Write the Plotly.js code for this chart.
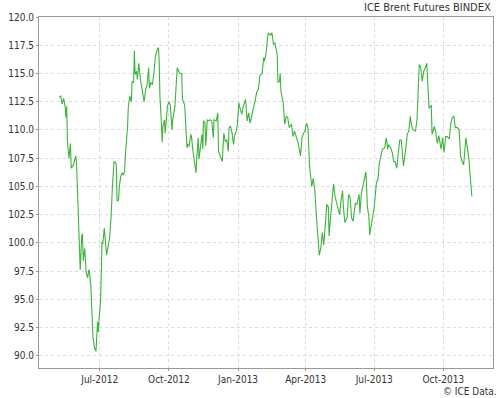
<!DOCTYPE html>
<html>
<head>
<meta charset="utf-8">
<script src="https://cdn.plot.ly/plotly-3.0.1.min.js"></script>
<style>html,body{margin:0;padding:0;background:#fff;}#chart{width:500px;height:398px;}</style>
</head>
<body>
<div id="chart"></div>
<script>
var dates = [
"2012-05-08","2012-05-10","2012-05-12","2012-05-14","2012-05-16","2012-05-17","2012-05-18","2012-05-19","2012-05-21","2012-05-23",
"2012-05-24","2012-05-27","2012-05-30","2012-05-31","2012-06-02","2012-06-04","2012-06-05","2012-06-07","2012-06-08","2012-06-09",
"2012-06-11","2012-06-13","2012-06-15","2012-06-16","2012-06-17","2012-06-19","2012-06-21","2012-06-22","2012-06-24","2012-06-26",
"2012-06-28","2012-06-29","2012-06-30","2012-07-02","2012-07-03","2012-07-04","2012-07-05","2012-07-07","2012-07-10","2012-07-12",
"2012-07-14","2012-07-16","2012-07-17","2012-07-18","2012-07-20","2012-07-22","2012-07-23","2012-07-24","2012-07-26","2012-07-27",
"2012-07-29","2012-07-31","2012-08-01","2012-08-03","2012-08-04","2012-08-07","2012-08-08","2012-08-10","2012-08-11","2012-08-12",
"2012-08-13","2012-08-15","2012-08-16","2012-08-17","2012-08-19","2012-08-20","2012-08-22","2012-08-24","2012-08-27","2012-08-29",
"2012-08-31","2012-09-02","2012-09-04","2012-09-05","2012-09-07","2012-09-09","2012-09-11","2012-09-13","2012-09-15","2012-09-17",
"2012-09-18","2012-09-19","2012-09-21","2012-09-22","2012-09-23","2012-09-25","2012-09-26","2012-09-27","2012-09-29","2012-10-01",
"2012-10-03","2012-10-05","2012-10-06","2012-10-09","2012-10-12","2012-10-14","2012-10-16","2012-10-18","2012-10-19","2012-10-22",
"2012-10-23","2012-10-25","2012-10-26","2012-10-28","2012-10-30","2012-10-31","2012-11-02","2012-11-04","2012-11-06","2012-11-07",
"2012-11-09","2012-11-10","2012-11-12","2012-11-14","2012-11-15","2012-11-16","2012-11-18","2012-11-19","2012-11-21","2012-11-23",
"2012-11-25","2012-11-27","2012-11-29","2012-11-30","2012-12-03","2012-12-05","2012-12-06","2012-12-08","2012-12-11","2012-12-13",
"2012-12-15","2012-12-17","2012-12-19","2012-12-20","2012-12-22","2012-12-24","2012-12-26","2012-12-27","2012-12-30","2012-12-31",
"2013-01-02","2013-01-04","2013-01-06","2013-01-08","2013-01-11","2013-01-13","2013-01-15","2013-01-17","2013-01-19","2013-01-22",
"2013-01-24","2013-01-26","2013-01-28","2013-01-30","2013-02-02","2013-02-04","2013-02-05","2013-02-07","2013-02-08","2013-02-10",
"2013-02-13","2013-02-15","2013-02-17","2013-02-19","2013-02-22","2013-02-23","2013-02-25","2013-02-26","2013-02-27","2013-03-02",
"2013-03-04","2013-03-06","2013-03-08","2013-03-10","2013-03-13","2013-03-15","2013-03-17","2013-03-19","2013-03-22","2013-03-25",
"2013-03-27","2013-03-29","2013-03-31","2013-04-02","2013-04-04","2013-04-06","2013-04-08","2013-04-09","2013-04-11","2013-04-13",
"2013-04-15","2013-04-17","2013-04-19","2013-04-21","2013-04-23","2013-04-25","2013-04-27","2013-04-29","2013-05-01","2013-05-02",
"2013-05-04","2013-05-06","2013-05-08","2013-05-10","2013-05-12","2013-05-14","2013-05-16","2013-05-18","2013-05-20","2013-05-21",
"2013-05-23","2013-05-26","2013-05-28","2013-05-30","2013-06-01","2013-06-03","2013-06-06","2013-06-08","2013-06-11","2013-06-12",
"2013-06-14","2013-06-16","2013-06-19","2013-06-20","2013-06-22","2013-06-24","2013-06-25","2013-06-27","2013-06-29","2013-07-01",
"2013-07-04","2013-07-06","2013-07-08","2013-07-10","2013-07-12","2013-07-15","2013-07-17","2013-07-19","2013-07-20","2013-07-23",
"2013-07-25","2013-07-27","2013-07-29","2013-07-31","2013-08-02","2013-08-04","2013-08-06","2013-08-07","2013-08-09","2013-08-12",
"2013-08-14","2013-08-16","2013-08-18","2013-08-20","2013-08-22","2013-08-25","2013-08-27","2013-08-30","2013-09-01","2013-09-03",
"2013-09-05","2013-09-07","2013-09-09","2013-09-12","2013-09-14","2013-09-15","2013-09-16","2013-09-19","2013-09-21","2013-09-23",
"2013-09-25","2013-09-28","2013-09-30","2013-10-02","2013-10-04","2013-10-06","2013-10-09","2013-10-11","2013-10-13","2013-10-15",
"2013-10-17","2013-10-20","2013-10-22","2013-10-24","2013-10-26","2013-10-28","2013-10-31","2013-11-02","2013-11-04","2013-11-06",
"2013-11-08"
];
var prices = [
112.9,113.0,112.3,112.8,112.0,111.1,112.1,109.0,107.5,108.8,
106.6,106.9,107.7,107.1,103.4,100.4,97.6,100.6,100.8,98.4,
99.5,97.3,96.9,97.5,97.6,96.3,93.3,91.6,90.7,90.4,
93.0,92.1,93.2,94.8,97.2,100.1,99.9,101.3,98.9,99.5,
100.4,102.2,104.3,105.2,107.2,107.1,106.9,103.7,103.8,105.0,
105.9,106.2,106.0,106.3,107.7,110.3,112.1,113.0,112.7,112.5,
114.3,114.2,117.0,114.9,115.2,114.5,115.9,114.5,113.3,112.5,
113.6,114.0,115.5,113.7,114.2,114.0,115.0,116.5,117.0,117.3,
116.2,113.0,110.6,108.9,110.3,110.9,109.7,110.5,112.1,112.5,
112.1,110.0,110.9,112.1,115.5,115.2,115.0,115.0,112.7,112.2,
111.2,108.4,108.7,108.6,109.6,109.4,108.1,107.1,106.2,107.5,
109.3,107.4,108.4,109.6,108.3,110.8,110.6,108.6,110.9,110.8,
110.9,110.8,109.3,110.9,110.8,111.5,108.1,107.8,107.2,109.7,
109.0,109.1,108.1,110.2,110.3,109.7,108.7,109.4,110.0,110.5,
112.4,111.8,111.4,112.1,112.7,110.8,111.5,110.6,111.2,111.8,
112.7,113.4,113.6,114.8,115.0,116.4,116.1,116.7,117.4,118.6,
118.4,118.6,117.6,117.7,116.7,114.2,114.3,115.0,113.4,112.4,
110.5,111.2,111.1,110.2,110.5,109.4,109.9,109.4,108.8,107.7,
109.3,109.7,109.9,110.6,110.2,106.8,105.7,105.0,105.7,104.7,
102.5,100.6,98.9,99.5,100.9,99.8,101.9,103.4,103.2,100.6,
102.3,103.8,105.2,104.1,103.5,103.1,102.5,103.8,104.6,103.2,
101.8,102.2,104.3,104.0,102.2,101.9,103.5,103.4,104.3,102.6,
104.4,105.0,106.2,106.3,103.2,102.3,100.7,101.6,102.6,103.1,
105.3,105.6,107.1,107.7,108.3,108.4,109.3,108.3,108.7,108.4,
108.0,107.2,107.2,106.6,108.0,109.1,109.1,108.3,106.8,108.3,
109.6,109.9,111.2,110.3,110.0,109.9,110.9,115.8,115.5,114.3,
115.2,115.5,115.9,111.9,112.1,112.2,109.6,110.3,109.8,108.8,
109.5,108.3,109.3,108.0,109.4,109.4,109.2,110.6,111.1,111.2,
110.2,110.2,110.0,107.7,107.2,106.9,109.3,108.5,107.5,105.7,
104.1
];
var yTicks = [90,92.5,95,97.5,100,102.5,105,107.5,110,112.5,115,117.5,120];
var xTickDates = ["2012-07-01","2012-10-01","2013-01-01","2013-04-01","2013-07-01","2013-10-01"];
var xTickLabels = ["Jul-2012","Oct-2012","Jan-2013","Apr-2013","Jul-2013","Oct-2013"];

var tickFont = {family: 'DejaVu Sans Condensed, DejaVu Sans, sans-serif', size: 10, color: '#333'};
var trace = {
  x: dates, y: prices, type: 'scatter', mode: 'lines',
  line: {color: '#3cb43c', width: 1.1},
  hoverinfo: 'x+y'
};
var layout = {
  width: 500, height: 398,
  margin: {l: 39, r: 7, t: 17, b: 30},
  paper_bgcolor: '#ffffff', plot_bgcolor: '#ffffff',
  showlegend: false,
  font: tickFont,
  xaxis: {
    type: 'date',
    range: ['2012-04-11 04:00', '2013-12-06 02:00'],
    tickvals: xTickDates, ticktext: xTickLabels,
    showgrid: true, gridcolor: '#dcdcdc', griddash: '3px,3px', gridwidth: 1,
    showline: true, linecolor: '#999', linewidth: 1, mirror: true,
    ticks: 'outside', ticklen: 2, tickcolor: '#999',
    zeroline: false,
    tickfont: tickFont
  },
  yaxis: {
    range: [88.91, 120],
    tickvals: yTicks,
    ticktext: yTicks.map(function(v){return v.toFixed(1);}),
    showgrid: true, gridcolor: '#dcdcdc', griddash: '3px,3px', gridwidth: 1,
    showline: true, linecolor: '#999', linewidth: 1, mirror: true,
    ticks: 'outside', ticklen: 2, tickcolor: '#999',
    zeroline: false,
    tickfont: tickFont
  },
  annotations: [
    {text: 'ICE Brent Futures BINDEX', xref: 'paper', yref: 'paper', x: 1, y: 1,
     xanchor: 'right', yanchor: 'bottom', yshift: 1, showarrow: false,
     font: {family: 'DejaVu Sans Condensed, DejaVu Sans, sans-serif', size: 11, color: '#333'}},
    {text: '© ICE Data.', xref: 'paper', yref: 'paper', x: 1, y: 0,
     xanchor: 'right', yanchor: 'top', yshift: -16, xshift: 6, showarrow: false,
     font: tickFont}
  ]
};
Plotly.newPlot('chart', [trace], layout, {displayModeBar: false, staticPlot: true});
</script>
</body>
</html>
